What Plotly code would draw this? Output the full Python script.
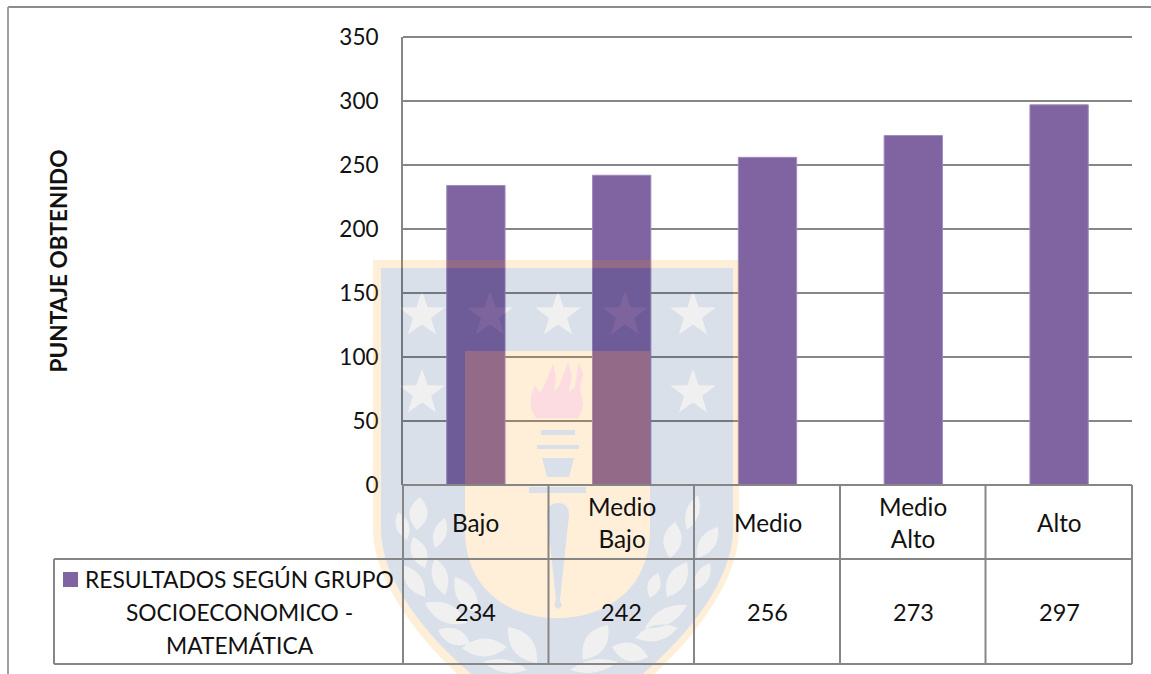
import math
import plotly.graph_objects as go

categories = ["Bajo", "Medio<br>Bajo", "Medio", "Medio<br>Alto", "Alto"]
values = [234, 242, 256, 273, 297]
series_lines = ["RESULTADOS SEGÚN GRUPO", "SOCIOECONOMICO -", "MATEMÁTICA"]
y_title = "PUNTAJE OBTENIDO"
y_ticks = [0, 50, 100, 150, 200, 250, 300, 350]

W, H = 1151, 674
L, R, T, B = 403, 1132, 37, 485
GRID = "#868686"
PURPLE = "#8064A2"
TXT = "#111111"
FONT = "Lato"


def fx(x):
    return (x - L) / (R - L)


def fy(y):
    return (B - y) / (B - T)


def p(x, y):
    return f"{fx(x):.5f},{fy(y):.5f}"


def poly(pts):
    return "M" + " L".join(p(*q) for q in pts) + " Z "


def shield(x0, x1, top, side, bottom, k1=80, k2=65):
    c = (x0 + x1) / 2
    return (f"M{p(x0, top)} L{p(x1, top)} L{p(x1, side)} "
            f"C{p(x1, side + k1)} {p(c + k2, bottom - 15)} {p(c, bottom)} "
            f"C{p(c - k2, bottom - 15)} {p(x0, side + k1)} {p(x0, side)} Z ")


def star(cx, cy, r=24):
    pts = []
    for i in range(10):
        a = -math.pi / 2 + i * math.pi / 5
        rr = r if i % 2 == 0 else r * 0.40
        pts.append((cx + rr * math.cos(a), cy + rr * math.sin(a)))
    return poly(pts)


def leaf(x0, y0, x1, y1, w):
    w = w * 1.3
    mx, my = (x0 + x1) / 2, (y0 + y1) / 2
    dx, dy = x1 - x0, y1 - y0
    n = math.hypot(dx, dy)
    ox, oy = -dy / n * w, dx / n * w
    return (f"M{p(x0, y0)} Q{p(mx + ox, my + oy)} {p(x1, y1)} "
            f"Q{p(mx - ox, my - oy)} {p(x0, y0)} Z ")


def z7(x, y):
    return (500 + x / 3, 350 + y / 3)


star_centres = [(422, 315), (490, 315), (558, 315), (625, 315), (693, 315),
                (422, 393), (693, 393)]
leaves = [
    (420, 497, 417, 530, 14), (398, 512, 407, 540, 10), (445, 518, 435, 548, 10),
    (413, 537, 425, 568, 12), (403, 565, 425, 597, 12), (435, 558, 445, 595, 12),
    (455, 577, 477, 613, 14), (425, 603, 467, 623, 14), (438, 630, 470, 643, 12),
    (508, 627, 537, 663, 16), (462, 648, 507, 647, 14), (483, 662, 527, 670, 10),
    (698, 495, 687, 530, 10), (675, 522, 670, 558, 14), (718, 527, 697, 558, 12),
    (687, 562, 667, 597, 14), (710, 563, 695, 590, 10), (658, 573, 650, 598, 10),
    (687, 605, 645, 628, 12), (678, 628, 635, 638, 12), (608, 625, 583, 660, 16),
    (648, 657, 612, 647, 14), (618, 662, 570, 670, 10),
]
decor = "".join(star(*c) for c in star_centres) + "".join(leaf(*l) for l in leaves)

outer = shield(373, 739, 260, 530, 735)
inner = shield(381, 733, 268, 530, 725, k2=58)
cream = (f"M{p(465, 351)} L{p(650, 351)} L{p(650, 530)} "
         f"C{p(650, 590)} {p(605, 618)} {p(557, 618)} "
         f"C{p(510, 618)} {p(465, 590)} {p(465, 530)} Z ")
torch = (poly([(541, 430), (575, 430), (575, 435), (541, 435)])
         + poly([(537, 445), (579, 445), (579, 449), (537, 449)])
         + poly([(542, 458), (574, 458), (569, 477), (547, 477)])
         + poly([(529, 487), (586, 487), (586, 493), (529, 493)])
         + f"M{p(547, 515)} Q{p(547, 503)} {p(558, 503)} Q{p(569, 503)} {p(569, 515)} "
           f"L{p(560, 600)} L{p(562, 606)} L{p(558, 609)} L{p(554, 606)} L{p(556, 600)} Z ")
flame = poly([z7(*q) for q in [
    (108, 205), (92, 175), (92, 140), (105, 105), (120, 130), (140, 90), (160, 40),
    (168, 85), (162, 125), (178, 105), (205, 35), (215, 80), (207, 125), (225, 110),
    (235, 38), (250, 70), (240, 115), (250, 165), (235, 205)]])

CHART_SHAPES = []


def line(x0, y0, x1, y1, color=GRID, width=2):
    CHART_SHAPES.append(dict(type="line", xref="paper", yref="paper",
                             x0=fx(x0), x1=fx(x1), y0=fy(y0), y1=fy(y1),
                             line=dict(color=color, width=width), layer="above"))


# chart frame
line(8, 7, W, 7, "#8c8c8c", 2)
line(8, 7, 8, H, "#a0a0a0", 2)
# top gridline of the plot area
line(L, T, R, T)
# data table
col_x = [403, 548.5, 694, 840, 985.5, 1132]
row_y = [485, 559, 664]
for cx in col_x:
    line(cx, row_y[0], cx, row_y[2])
line(54, row_y[1], col_x[-1], row_y[1])
line(54, row_y[2], col_x[-1], row_y[2])
line(col_x[0], row_y[0], col_x[-1], row_y[0])
line(54, row_y[1], 54, row_y[2])

WATERMARK = [
    dict(type="path", xref="paper", yref="paper", layer="above", line_width=0,
         fillrule="evenodd", fillcolor="rgba(255,150,0,0.15)",
         path=outer + inner + cream + torch + flame),
    dict(type="path", xref="paper", yref="paper", layer="above", line_width=0,
         fillrule="evenodd", fillcolor="rgba(5,50,105,0.15)",
         path=inner + cream + torch + decor),
    dict(type="path", xref="paper", yref="paper", layer="above", line_width=0,
         fillrule="evenodd", fillcolor="rgba(105,105,105,0.10)", path=decor),
    dict(type="path", xref="paper", yref="paper", layer="above", line_width=0,
         fillrule="evenodd", fillcolor="rgba(235,40,70,0.16)", path=flame),
    # legend swatch
    dict(type="rect", xref="paper", yref="paper", layer="above", line_width=0,
         fillcolor=PURPLE, x0=fx(63), x1=fx(78), y0=fy(572), y1=fy(587)),
]

fig = go.Figure(go.Bar(x=list(range(len(categories))), y=values, width=0.4,
                       name=" ".join(series_lines),
                       marker=dict(color=PURPLE, line=dict(color="#A08BBB", width=1)),
                       showlegend=False, hoverinfo="y"))

annotations = []
row1_y = (row_y[0] + row_y[1]) / 2 + 0.5
row2_y = (row_y[1] + row_y[2]) / 2 + 0.5
for i, (cat, v) in enumerate(zip(categories, values)):
    annotations.append(dict(x=i, xref="x", y=fy(row1_y), yref="paper", text=cat,
                            showarrow=False, yanchor="middle", align="center",
                            font=dict(size=24.3)))
    annotations.append(dict(x=i, xref="x", y=fy(row2_y), yref="paper", text=str(v),
                            showarrow=False, yanchor="middle", font=dict(size=23.5)))
for text, ypix in zip(series_lines, [579, 612, 645]):
    annotations.append(dict(x=fx(239.5), xref="paper", y=fy(ypix), yref="paper",
                            text=text, showarrow=False, xanchor="center",
                            yanchor="middle", font=dict(size=22.8)))

fig.update_layout(
    width=W, height=H, autosize=False,
    margin=dict(l=L, r=W - R, t=T, b=H - B, pad=0),
    paper_bgcolor="white", plot_bgcolor="white",
    font=dict(family=FONT, size=22, color=TXT),
    shapes=WATERMARK + CHART_SHAPES,
    annotations=annotations,
    xaxis=dict(range=[-0.5, 4.5], showticklabels=False, showgrid=False,
               zeroline=False, showline=False, ticks=""),
    yaxis=dict(range=[0, 350], tickvals=y_ticks, showgrid=True, gridcolor=GRID,
               gridwidth=2, zeroline=False, showline=True, linecolor=GRID, linewidth=2,
               ticks="", ticklabelstandoff=18,
               tickfont=dict(family=FONT, size=22.5, color=TXT),
               title=dict(text=f"<b>{y_title}</b>", standoff=265,
                          font=dict(family=FONT, size=22.6, color=TXT))),
)

fig.write_html("out.html", config={"displayModeBar": False}, post_script=(
    "document.body.style.margin='0';document.body.style.overflow='hidden';"))
